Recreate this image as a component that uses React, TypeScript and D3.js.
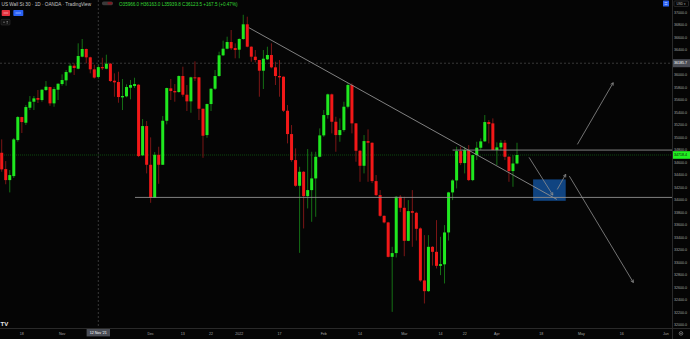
import React from 'react';
import * as d3 from 'd3';

const W = 690;
const H = 339;

// Daily candles, US Wall St 30 (OANDA), 11 Oct 2021 -> 8 Apr 2022 (bar index 0..128)
const opens = [
  34754, 34493, 34317, 34381, 34957, 35325, 35234, 35474, 35570, 35629,
  35597, 35757, 35805, 35544, 35762, 35853, 35912, 36040, 36146, 36098,
  36290, 36413, 36280, 36088, 35966, 36125, 36098, 36178, 35906, 35885,
  35640, 35656, 35794, 35821, 35842, 34712, 35181, 34562, 34034, 34722,
  34562, 35266, 35784, 35741, 35725, 35981, 35682, 35576, 35960, 35960,
  35458, 35037, 35533, 35778, 35981, 36312, 36418, 36525, 36429, 36402,
  36573, 36808, 36450, 36290, 36237, 36066, 36248, 36317, 36120, 35981,
  35970, 35426, 35053, 34637, 34226, 34450, 34061, 34157, 34344, 34690,
  35032, 35357, 35688, 35250, 35037, 35117, 35490, 35837, 35224, 34786,
  34546, 34941, 34914, 34301, 34077, 33746, 33640, 33090, 33150, 34050,
  33874, 33346, 33821, 33794, 33544, 32712, 32541, 33250, 33170, 32946,
  32970, 33480, 34120, 34312, 34781, 34589, 34797, 34317, 34717, 34834,
  34936, 35245, 35224, 34797, 34840, 34914, 34690, 34461, 34583,
];
const highs = [
  34968, 34621, 34477, 34990, 35340, 35330, 35517, 35661, 35661, 35757,
  35770, 35901, 35810, 35805, 35862, 36008, 36077, 36184, 36184, 36504,
  36573, 36420, 36290, 36162, 36163, 36274, 36322, 36190, 36024, 36050,
  35933, 35848, 35917, 35954, 35850, 35293, 35261, 35000, 34765, 34850,
  35341, 35795, 35933, 35853, 35990, 36130, 35837, 35970, 36216, 35965,
  35460, 35540, 35785, 36077, 36370, 36546, 36610, 36717, 36504, 36584,
  36960, 36930, 36455, 36397, 36240, 36397, 36450, 36504, 36210, 36237,
  35975, 35517, 35197, 34824, 34530, 34460, 34813, 34770, 34770, 35144,
  35437, 35700, 35700, 35330, 35304, 35570, 35864, 35864, 35230, 34800,
  35037, 35128, 34920, 34397, 34157, 33750, 33650, 33250, 34060, 34077,
  34050, 33997, 34157, 33810, 33560, 33437, 33437, 33260, 33677, 33410,
  33597, 34130, 34330, 34850, 34850, 34850, 34877, 34720, 34930, 34984,
  35357, 35277, 35304, 34920, 34957, 34957, 34700, 34717, 34914,
];
const lows = [
  34450, 34250, 34120, 34350, 34930, 35069, 35197, 35437, 35437, 35549,
  35570, 35741, 35506, 35490, 35597, 35826, 35826, 36024, 35997, 36088,
  36280, 36184, 36024, 35940, 35939.8, 36077, 36088, 35885, 35650, 35554,
  35437, 35640, 35608, 35789, 34685, 34701, 34424, 33954, 34030, 34258,
  34560, 35208, 35597, 35570, 35714, 35650, 35421, 35394, 35900, 35277,
  34674, 34994, 35421, 35757, 35970, 36300, 36408, 36397, 36264, 36264,
  36560, 36440, 36210, 36200, 35650, 35773, 36237, 36104, 35837, 35650,
  35405, 34904, 34610, 34210, 33154, 33544, 33864, 33650, 33730, 34680,
  35010, 35300, 35064, 34770, 34930, 35090, 35464, 35064, 34610, 34290,
  34424, 34290, 34269, 34061, 33730, 33624, 33080, 32210, 33080, 33805,
  33100, 33340, 33250, 33350, 32690, 32344, 32530, 32950, 32904, 32797,
  32664, 33350, 33997, 34184, 34557, 34424, 34301, 34300, 34637, 34797,
  34930, 34904, 34797, 34557, 34790, 34637, 34290, 34210, 34570,
];
const closes = [
  34488, 34317, 34397, 34968, 35325, 35245, 35485, 35570, 35624, 35602,
  35762, 35810, 35544, 35773, 35858, 35917, 36045, 36146, 36109, 36301,
  36413, 36280, 36088, 35956, 36123.5, 36105, 36178, 35901, 35880, 35645,
  35661, 35805, 35837, 35853, 34701, 35181, 34562, 34034, 34722, 34562,
  35266, 35789, 35741, 35720, 35981, 35682, 35576, 35960, 35950, 35458,
  35026, 35533, 35778, 35981, 36312, 36418, 36525, 36424, 36397, 36573,
  36808, 36450, 36290, 36237, 36066, 36258, 36317, 36120, 35981, 35960,
  35426, 35053, 34637, 34226, 34450, 34061, 34157, 34344, 34690, 35032,
  35357, 35688, 35250, 35037, 35117, 35490, 35837, 35224, 34786, 34546,
  34941, 34914, 34301, 34077, 33746, 33640, 33090, 33150, 34050, 33874,
  33346, 33821, 33794, 33538, 32712, 32541, 33250, 33170, 32946, 32973,
  33480, 34120, 34312, 34781, 34589, 34797, 34317, 34717, 34834, 34936,
  35245, 35213, 34797, 34840, 34914, 34690, 34461, 34583, 34718.4,
];

const priceTicks = [
  37000, 36800, 36600, 36400, 36000, 35800, 35600, 35400, 35200, 35000,
  34800, 34600, 34400, 34200, 34000, 33800, 33600, 33400, 33200, 33000,
  32800, 32600, 32400, 32200, 32000,
];
const timeTickLabels = ['18', 'Nov', 'Dec', '13', '22', '2022', '17', 'Feb', '14', 'Mar', '14', '22', 'Apr', '18', 'May', '16', 'Jun'];
const timeTickBars = [5, 15, 37, 45, 52, 59, 69, 80, 89, 100, 109, 115, 123, 134, 144, 154, 165];

const crosshairBar = 24;
const crosshairPrice = 36185.7;
const crosshairDate = "12 Nov '21";
const lastPrice = 34718.4;

const titleText = 'US Wall St 30 · 1D · OANDA · TradingView';
const legendText = 'O35966.0 H36163.0 L35939.8 C36123.5 +167.5 (+0.47%)';

// drawings: [bar, price]
const trendLine: [number, number][] = [[61.4, 36754], [137.9, 34008]];
const supportLine: [number, number] = [33.1, 34040];
const resistanceLine: [number, number] = [112, 34797];
const zoneBox: [number, number][] = [[132, 34328], [140.1, 33986]];
const arrows: [number, number][][] = [
  [[131, 34680], [136.9, 34077]],
  [[138, 34168], [140.1, 34408]],
  [[143, 34888], [151.9, 35874]],
  [[141, 34381], [156.9, 32680]],
];

const PLOT_R = 672;
const PLOT_B = 328;
const FONT = "'Liberation Sans', Arial, sans-serif";

export default function App() {
  const x = d3.scaleLinear().domain([0, 128]).range([1.7, 517]);
  const y = d3.scaleLinear().domain([32000, 37000]).range([325, 12.3]);
  const bw = 3;
  const upBody = '#1fe81f';
  const downBody = '#f21818';
  const upWick = '#157015';
  const downWick = '#7c1616';
  const lineCol = '#8e8e8e';
  const axisText = '#a6a6a6';

  const arrowHead = (a: [number, number], b: [number, number], i: number) => {
    const x1 = x(a[0]), y1 = y(a[1]), x2 = x(b[0]), y2 = y(b[1]);
    const ang = Math.atan2(y2 - y1, x2 - x1);
    const L = 3;
    const p1 = [x2 - L * Math.cos(ang - 0.5), y2 - L * Math.sin(ang - 0.5)];
    const p2 = [x2 - L * Math.cos(ang + 0.5), y2 - L * Math.sin(ang + 0.5)];
    return (
      <g key={'a' + i} stroke={lineCol} strokeWidth={0.8} fill="none">
        <line x1={x1} y1={y1} x2={x2} y2={y2} />
        <polyline points={`${p1[0]},${p1[1]} ${x2},${y2} ${p2[0]},${p2[1]}`} />
      </g>
    );
  };

  return (
    <div style={{ position: 'absolute', left: 0, top: 0 }}>
      <svg width={W} height={H} viewBox={`0 0 ${W} ${H}`} style={{ display: 'block', background: '#050505' }} fontFamily={FONT}>
        <defs>
          <clipPath id="plot">
            <rect x={0} y={0} width={PLOT_R} height={PLOT_B} />
          </clipPath>
        </defs>
        <rect x={0} y={0} width={W} height={H} fill="#050505" />

        <g clipPath="url(#plot)">
          {/* last price dotted line */}
          <line x1={0} x2={PLOT_R} y1={y(lastPrice)} y2={y(lastPrice)} stroke="#0f5a12" strokeWidth={0.8} strokeDasharray="1,1" />
          {/* crosshair */}
          <line x1={x(crosshairBar)} x2={x(crosshairBar)} y1={0} y2={PLOT_B} stroke="#5a5a5a" strokeWidth={0.6} strokeDasharray="2,2" />
          <line x1={0} x2={PLOT_R} y1={y(crosshairPrice)} y2={y(crosshairPrice)} stroke="#5a5a5a" strokeWidth={0.6} strokeDasharray="2,2" />

          {/* candles */}
          {opens.map((o, i) => {
            const c = closes[i];
            const up = c >= o;
            const cx = x(i);
            const top = y(Math.max(o, c));
            const bot = y(Math.min(o, c));
            return (
              <g key={i}>
                <line x1={cx} x2={cx} y1={y(highs[i])} y2={y(lows[i])} stroke={up ? upWick : downWick} strokeWidth={1} />
                <rect x={cx - bw / 2} y={top} width={bw} height={Math.max(1, bot - top)} fill={up ? upBody : downBody} />
              </g>
            );
          })}

          {/* drawings */}
          <rect
            x={x(zoneBox[0][0])}
            y={y(zoneBox[0][1])}
            width={x(zoneBox[1][0]) - x(zoneBox[0][0])}
            height={y(zoneBox[1][1]) - y(zoneBox[0][1])}
            fill="#114a8c"
            fillOpacity={0.92}
          />
          <line x1={x(supportLine[0])} x2={PLOT_R} y1={y(supportLine[1])} y2={y(supportLine[1])} stroke={lineCol} strokeWidth={0.9} />
          <line x1={x(resistanceLine[0])} x2={PLOT_R} y1={y(resistanceLine[1])} y2={y(resistanceLine[1])} stroke={lineCol} strokeWidth={0.9} />
          <line x1={x(trendLine[0][0])} y1={y(trendLine[0][1])} x2={x(trendLine[1][0])} y2={y(trendLine[1][1])} stroke={lineCol} strokeWidth={0.9} />
          {arrows.map((a, i) => arrowHead(a[0], a[1], i))}
        </g>

        {/* axes separators */}
        <line x1={PLOT_R + 0.5} x2={PLOT_R + 0.5} y1={0} y2={H} stroke="#2a2a2a" strokeWidth={1} />
        <line x1={0} x2={W} y1={PLOT_B + 0.5} y2={PLOT_B + 0.5} stroke="#2a2a2a" strokeWidth={1} />

        {/* price axis */}
        {priceTicks.map((p) => (
          <text key={p} x={674} y={y(p)} dy="0.35em" fontSize={3.6} fill={axisText}>
            {p.toFixed(1)}
          </text>
        ))}
        <rect x={PLOT_R + 1} y={y(crosshairPrice) - 4} width={W - PLOT_R - 1} height={8} fill="#4a4d55" />
        <text x={674} y={y(crosshairPrice)} dy="0.35em" fontSize={3.6} fill="#ffffff">
          {crosshairPrice.toFixed(1)}
        </text>
        <rect x={PLOT_R + 1} y={y(lastPrice) - 3.8} width={W - PLOT_R - 1} height={7.6} fill="#22f022" />
        <text x={674} y={y(lastPrice)} dy="0.35em" fontSize={3.6} fill="#0a0a0a">
          {lastPrice.toFixed(1)}
        </text>

        {/* time axis */}
        {timeTickLabels.map((t, i) => (
          <text key={i} x={x(timeTickBars[i])} y={333.6} textAnchor="middle" dy="0.35em" fontSize={3.6} fill={axisText}>
            {t}
          </text>
        ))}
        <rect x={x(crosshairBar) - 11.7} y={329} width={23.4} height={7.4} fill="#4a4d55" />
        <text x={x(crosshairBar)} y={332.8} textAnchor="middle" dy="0.35em" fontSize={3.6} fill="#ffffff">
          {crosshairDate}
        </text>
        <rect x={PLOT_R + 1} y={PLOT_B + 1} width={W - PLOT_R - 1} height={H - PLOT_B - 1} fill="#050505" />
        <circle cx={681} cy={333.4} r={1.8} fill="none" stroke="#a0a0a0" strokeWidth={0.6} />
        <circle cx={681} cy={333.4} r={0.6} fill="#a0a0a0" />

        {/* header */}
        <text x={1.5} y={4.4} dy="0.35em" fontSize={4.7} fill="#c8c8c8">
          {titleText}
        </text>
        <rect x={102} y={1.4} width={11} height={3.8} rx={1.6} fill="#3a3a3a" />
        <rect x={107.5} y={2} width={4.8} height={2.6} rx={1} fill="#7a1c22" />
        <text x={119} y={4.4} dy="0.35em" fontSize={4.6} fill="#35d635">
          {legendText}
        </text>
        <rect x={1.7} y={10} width={8.3} height={6} rx={0.8} fill="#e5323f" />
        <rect x={13.3} y={10} width={10} height={6} rx={0.8} fill="#2a62f5" />
        <line x1={3.5} x2={8.2} y1={13} y2={13} stroke="#ffd7da" strokeWidth={0.6} />
        <line x1={15.5} x2={21} y1={13} y2={13} stroke="#d7e2ff" strokeWidth={0.6} />
        <rect x={1} y={19.3} width={9} height={5.7} rx={1} fill="#121212" stroke="#3a3a3a" strokeWidth={0.5} />
        <line x1={3} x2={5} y1={22.2} y2={22.2} stroke="#bdbdbd" strokeWidth={0.5} />
        <line x1={6.5} x2={8} y1={21.5} y2={21.5} stroke="#bdbdbd" strokeWidth={0.5} />
        <line x1={6.5} x2={8} y1={23} y2={23} stroke="#bdbdbd" strokeWidth={0.5} />

        {/* top-right controls */}
        <rect x={663} y={0.5} width={6} height={6} rx={0.6} fill="#2a62f5" />
        <line x1={664.6} x2={667.4} y1={2.6} y2={2.6} stroke="#ffffff" strokeWidth={0.5} />
        <line x1={664.6} x2={667.4} y1={4.4} y2={4.4} stroke="#ffffff" strokeWidth={0.5} />
        <rect x={674} y={1} width={14.5} height={5.4} rx={0.8} fill="none" stroke="#4a4a4a" strokeWidth={0.5} />
        <text x={681.2} y={3.7} dy="0.35em" textAnchor="middle" fontSize={3.2} fill="#b0b0b0">
          USD ▾
        </text>

        {/* logo */}
        <text x={0.5} y={325.5} fontSize={6} fontWeight="bold" fill="#e8e8e8">
          TV
        </text>
      </svg>
    </div>
  );
}
